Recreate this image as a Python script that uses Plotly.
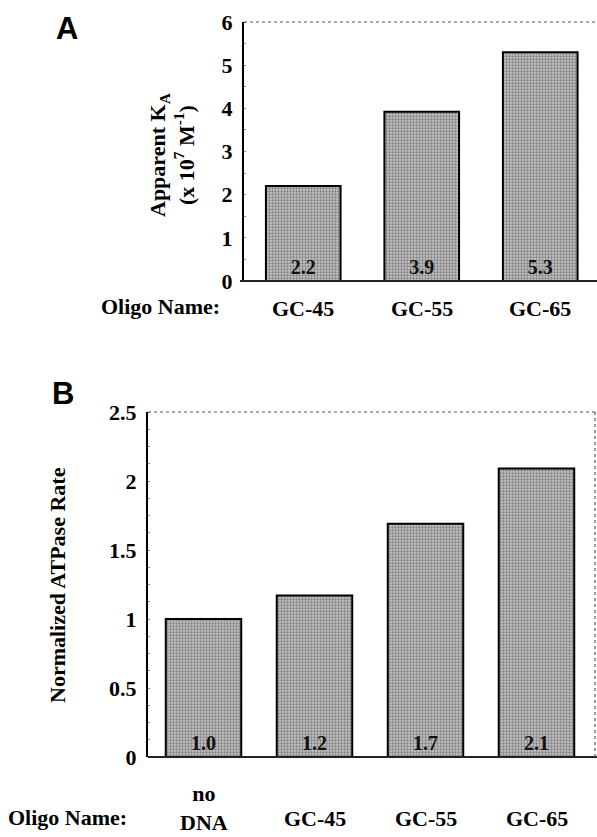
import plotly.graph_objects as go

# Panel A data
a_categories = ["GC-45", "GC-55", "GC-65"]
a_values = [2.2, 3.92, 5.3]
a_labels = ["2.2", "3.9", "5.3"]
a_ticks = [0, 1, 2, 3, 4, 5, 6]

# Panel B data
b_categories = ["no DNA", "GC-45", "GC-55", "GC-65"]
b_display = ["no<br>DNA", "GC-45", "GC-55", "GC-65"]
b_values = [1.0, 1.17, 1.69, 2.09]
b_labels = ["1.0", "1.2", "1.7", "2.1"]
b_ticks = [0, 0.5, 1, 1.5, 2, 2.5]
b_ticktext = ["0", "0.5", "1", "1.5", "2", "2.5"]

FONT = "Liberation Serif"
W, H = 597, 837

pattern = dict(shape=".", fgcolor="#3a3a3a", bgcolor="#c4c4c4", size=3, solidity=0.45)

barfont = dict(family=FONT, size=20, color="#111", weight="bold")

fig = go.Figure()
fig.add_trace(go.Bar(
    x=a_categories, y=a_values, xaxis="x", yaxis="y", width=0.63,
    marker=dict(color="#b0b0b0", pattern=pattern, line=dict(color="black", width=2)),
    text=a_labels, textposition="inside", insidetextanchor="start",
    textfont=barfont, textangle=0,
    showlegend=False, hoverinfo="skip"))
fig.add_trace(go.Bar(
    x=b_categories, y=b_values, xaxis="x2", yaxis="y2", width=0.68,
    marker=dict(color="#b0b0b0", pattern=pattern, line=dict(color="black", width=2)),
    text=b_labels, textposition="inside", insidetextanchor="start",
    textfont=barfont, textangle=0,
    showlegend=False, hoverinfo="skip"))

def px_x(p):
    return p / W

def px_y(p):
    return 1 - p / H

tickfont = dict(family=FONT, size=22, color="black", weight="bold")

fig.update_layout(
    width=W, height=H,
    margin=dict(l=0, r=0, t=0, b=0, autoexpand=False),
    paper_bgcolor="white", plot_bgcolor="white",
    font=dict(family=FONT, color="black"),
    uniformtext=dict(minsize=8, mode="show"),
    xaxis=dict(domain=[px_x(244), 1.0], range=[-0.5, 2.479], anchor="y",
               showticklabels=False, ticks="", showline=False, showgrid=False,
               zeroline=False, automargin=False),
    yaxis=dict(domain=[px_y(281), px_y(22)], range=[0, 6], anchor="x",
               tickvals=a_ticks, tickfont=tickfont, ticks="", showline=True,
               linecolor="black", linewidth=2, showgrid=False, zeroline=False,
               minor=dict(ticks="inside", ticklen=2, tickcolor="#888", dtick=0.5),
               ticklabelstandoff=5, automargin=False),
    xaxis2=dict(domain=[px_x(148), px_x(595)], range=[-0.5, 3.527], anchor="y2",
                showticklabels=False, ticks="", showline=False, showgrid=False,
                zeroline=False, automargin=False),
    yaxis2=dict(domain=[px_y(757), px_y(412)], range=[0, 2.5], anchor="x2",
                tickvals=b_ticks, ticktext=b_ticktext, tickfont=tickfont, ticks="",
                showline=True, linecolor="black", linewidth=2, showgrid=False,
                zeroline=False,
                minor=dict(ticks="inside", ticklen=2, tickcolor="#888", dtick=0.125),
                ticklabelstandoff=5, automargin=False),
)

shapes = []
shapes.append(dict(type="line", xref="paper", yref="paper", x0=px_x(240), x1=1.0,
                   y0=px_y(281), y1=px_y(281), line=dict(color="#222", width=2)))
shapes.append(dict(type="line", xref="paper", yref="paper", x0=px_x(244), x1=1.0,
                   y0=px_y(22), y1=px_y(22), line=dict(color="#555", width=1.2, dash="dot")))
shapes.append(dict(type="line", xref="paper", yref="paper", x0=px_x(148), x1=px_x(597),
                   y0=px_y(757), y1=px_y(757), line=dict(color="#222", width=2)))
shapes.append(dict(type="line", xref="paper", yref="paper", x0=px_x(148), x1=px_x(595),
                   y0=px_y(412), y1=px_y(412), line=dict(color="#555", width=1.2, dash="dot")))
shapes.append(dict(type="line", xref="paper", yref="paper", x0=px_x(595), x1=px_x(595),
                   y0=px_y(757), y1=px_y(412), line=dict(color="#555", width=1.2, dash="dot")))
fig.update_layout(shapes=shapes)

ann = []
labfont = dict(family=FONT, size=22, color="black", weight="bold")
for c in a_categories:
    ann.append(dict(x=c, xref="x", y=px_y(308), yref="paper", text=c,
                    showarrow=False, font=labfont, yanchor="middle"))
for c, d in zip(b_categories, b_display):
    ypos = 808 if "<br>" in d else 818
    ann.append(dict(x=c, xref="x2", y=px_y(ypos), yref="paper", text=d,
                    showarrow=False, font=labfont, yanchor="middle"))
ann.append(dict(x=px_x(222), y=px_y(307), xref="paper", yref="paper", xanchor="right",
                yanchor="middle", text="Oligo Name:", showarrow=False, font=labfont))
ann.append(dict(x=px_x(129), y=px_y(817), xref="paper", yref="paper", xanchor="right",
                yanchor="middle", text="Oligo Name:", showarrow=False, font=labfont))
titlefont = dict(family=FONT, size=22, color="black", weight="bold")
ann.append(dict(x=px_x(172), y=px_y(155), xref="paper", yref="paper", textangle=-90,
                text="Apparent K<sub>A</sub><br>(x 10<sup>7</sup> M<sup>-1</sup>)",
                showarrow=False, font=titlefont,
                xanchor="center", yanchor="middle"))
ann.append(dict(x=px_x(57), y=px_y(585), xref="paper", yref="paper", textangle=-90,
                text="Normalized ATPase Rate", showarrow=False,
                font=titlefont, xanchor="center", yanchor="middle"))
ann.append(dict(x=px_x(67), y=px_y(28), xref="paper", yref="paper", text="A",
                showarrow=False,
                font=dict(family="Liberation Sans", size=31, color="black", weight="bold"),
                xanchor="center", yanchor="middle"))
ann.append(dict(x=px_x(63), y=px_y(394), xref="paper", yref="paper", text="B",
                showarrow=False,
                font=dict(family="Liberation Sans", size=31, color="black", weight="bold"),
                xanchor="center", yanchor="middle"))
fig.update_layout(annotations=ann)

fig.write_html("out.html", config={"displayModeBar": False},
               post_script="document.body.style.margin='0';")
